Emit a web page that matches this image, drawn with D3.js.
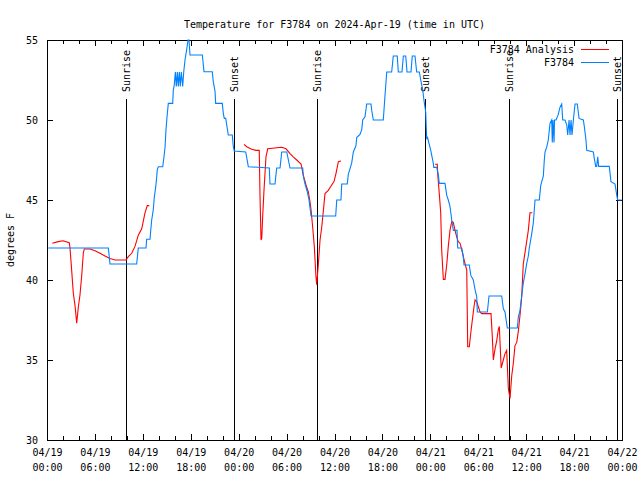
<!DOCTYPE html>
<html><head><meta charset="utf-8">
<script src="https://cdn.jsdelivr.net/npm/d3@7"></script>
<style>
html,body{margin:0;padding:0;background:#fff;}
svg{display:block;}
text{font-family:"DejaVu Sans Mono",monospace;font-size:10px;fill:#000;}
</style></head>
<body>
<svg id="chart" width="640" height="480"></svg>
<script>
// ---- data ----
const titleText = "Temperature for F3784 on 2024-Apr-19 (time in UTC)";
const yLabel = "degrees F";
const seriesNames = ["F3784 Analysis", "F3784"];
const seriesColors = ["#ff0000", "#0080ff"];
const yTicks = [30, 35, 40, 45, 50, 55];
// hours after 2024-04-19 00:00 UTC
const obsHours = [0.16,7.68,7.89,11.23,11.43,12.40,12.48,12.90,12.99,13.11,13.31,13.44,13.61,13.74,13.81,13.94,14.49,14.65,14.78,14.90,15.03,15.19,15.74,15.82,15.94,16.07,16.19,16.32,16.44,16.57,16.69,16.82,16.99,17.12,17.28,17.49,17.66,17.78,17.91,19.45,19.66,20.70,20.82,21.04,21.12,21.95,22.08,22.20,22.38,22.70,23.20,23.33,23.45,24.88,25.21,27.84,27.92,28.55,28.76,29.18,29.39,30.02,30.43,32.02,32.09,32.31,32.60,32.81,33.06,36.15,36.28,36.81,36.90,37.60,37.73,38.15,38.36,38.69,38.78,39.19,39.41,39.53,39.82,40.03,40.57,40.66,40.86,42.11,42.32,42.54,43.16,43.36,43.86,43.99,44.45,44.62,44.92,45.08,45.58,45.74,46.08,46.29,46.62,46.80,47.04,47.21,47.42,47.55,47.62,48.05,48.37,48.43,48.80,49.00,49.12,49.84,50.05,50.25,50.46,50.68,50.88,51.34,51.43,51.93,52.13,52.22,52.88,53.06,53.38,53.60,53.81,53.88,55.14,55.35,56.94,57.14,57.35,57.64,58.89,59.02,59.23,59.44,59.64,59.86,60.07,60.27,60.39,60.70,60.90,61.11,61.65,61.82,62.15,62.27,62.36,62.57,62.77,62.99,63.20,63.27,63.36,63.49,63.55,63.74,63.99,64.24,64.45,64.58,64.86,65.08,65.20,65.37,65.49,65.62,65.74,65.91,66.12,66.40,66.62,67.16,67.28,67.49,67.58,68.41,68.53,68.71,68.83,68.96,69.08,70.41,70.62,71.13,71.34,71.46,71.96];
const obsTemps = [42,42,41,41,42,42,42.55,42.55,43.1,43.75,44.4,45.2,45.8,46.46,46.9,47.08,47.08,47.7,48.3,49.4,50.2,51.04,51.04,51.9,52.2,53,52.1,53,52.1,53,52.1,53,52.1,53,53.75,54.4,55,55,54.06,54.06,53.02,53.02,52.4,51.8,51.04,51.04,50.4,50.1,50.1,49.06,49.06,48.33,48.06,48,47.08,47,46,46,47,47,48,48,47,47,46.5,46,45.5,45,44,44,45,45,46,46,46.6,47.3,48,48.4,48.9,49.1,49.4,50,50.2,51,51,50.6,50,50,51.5,53,53,54,54,53,53,54,54,53,53,54,54,53,53,52.5,51.9,51.2,50.5,48.8,48.96,48.1,47.3,47.04,47.04,46.6,46.04,46.04,45.3,45,44.6,43.75,43.1,43.1,42,42,41.46,40.94,40.94,40.3,40,39.4,38.96,38,38,39,39,38.2,38,37,37,37.7,38.1,39,39.8,40.4,41.04,41.5,42,42.9,43.6,45,45,45.9,46.5,47.5,48,48.3,48.75,49.8,50,48.6,50,48.6,50,50,50.3,50.8,51,50,50,49.7,49.06,50,49.06,50,49.06,50,51,51,50.1,50,49.6,48.75,48.1,48,47.6,47.1,47.1,47.7,47.1,47.1,46.15,46,45.3,45,45];
// null temperature = gap between analysis runs
const anaHours = [0.66,1.42,2.0,2.79,2.88,3.09,3.29,3.51,3.72,3.92,4.13,4.35,4.55,4.67,5.38,6.01,6.64,7.26,7.89,8.52,9.89,10.18,10.61,11.02,11.43,11.86,12.27,12.56,12.81,18,24.67,25.01,25.63,26.17,26.58,26.67,26.80,26.89,27.01,27.17,27.42,27.64,29.39,29.93,30.43,30.84,31.27,31.81,32.09,32.43,32.72,32.93,33.06,33.27,33.47,33.68,33.77,33.97,34.19,34.40,34.60,34.81,35.22,35.65,35.94,36.19,36.48,36.81,42,48.59,48.87,48.92,49.12,49.30,49.42,49.63,49.84,50.05,50.25,50.46,50.68,50.88,51.09,51.30,51.50,51.72,51.93,52.13,52.34,52.56,52.68,52.88,53.06,53.26,53.47,53.60,53.81,54.01,54.22,54.43,55.60,55.76,55.89,56.10,56.31,56.51,56.64,56.87,57.14,57.35,57.56,57.77,57.98,58.19,58.39,58.60,58.82,59.02,59.23,59.44,59.64,59.94,60.27,60.48,60.77];
const anaTemps = [42.3,42.4,42.45,42.33,42.0,40.6,39.2,38.4,37.3,38.3,39.06,40.3,41.7,41.94,41.94,41.83,41.67,41.5,41.35,41.25,41.25,41.46,41.67,42.1,42.8,43.2,44.2,44.65,44.65,null,48.48,48.33,48.17,48.1,48.1,45.3,42.5,42.6,44,45.6,47.7,48.2,48.3,48.2,47.9,47.7,47.5,47.25,46.56,45.94,45.5,44.9,44.4,43.3,42.1,40.2,39.7,40.94,42.5,43.3,44.3,45.4,45.6,45.94,46.15,46.67,47.4,47.44,null,47.23,47.23,46.67,45.4,44.2,41.9,40.04,40.04,40.94,42.1,43.1,43.65,43.6,43.1,42.7,42.4,42.3,41.9,41.46,41.04,40.6,35.83,35.83,36.67,37.5,38.33,38.75,38.65,38.33,38.0,37.9,37.9,36.46,35.0,35.7,36.2,36.9,37.1,34.5,35.0,35.4,35.6,33.2,32.6,34.0,34.8,35.9,36.1,36.8,37.8,38.96,41.0,42.0,43.1,44.2,44.2];
const sunHours = [9.93, 23.45, 33.85, 47.37, 57.89, 71.41];
const sunLabels = ["Sunrise", "Sunset", "Sunrise", "Sunset", "Sunrise", "Sunset"];

// ---- chart ----
const t0 = Date.UTC(2024, 3, 19);
const toDate = h => new Date(t0 + h * 3600e3);
const L = 47, R = 622, T = 40, B = 440;
const svg = d3.select("#chart");
const x = d3.scaleUtc().domain([toDate(0), toDate(72)]).range([L, R]);
const y = d3.scaleLinear().domain([30, 55]).range([B, T]);

svg.append("defs").append("clipPath").attr("id", "clip")
  .append("rect").attr("x", L).attr("y", T - 1).attr("width", R - L).attr("height", B - T + 2);

// title
svg.append("text").attr("x", (L + R) / 2).attr("y", 25).attr("text-anchor", "middle")
  .attr("dominant-baseline", "middle").text(titleText);
// y label
svg.append("text").attr("transform", `translate(11,${(T + B) / 2}) rotate(-90)`)
  .attr("text-anchor", "middle").attr("dominant-baseline", "middle").text(yLabel);

const minorTicks = d3.utcHour.every(2).range(toDate(0), toDate(72.01));
const majorTicks = d3.utcHour.every(6).range(toDate(0), toDate(72.01));

function styleAxis(g) {
  g.select(".domain").remove();
  g.selectAll("line").attr("stroke", "#000").attr("shape-rendering", "crispEdges");
}
// minor x ticks bottom/top
svg.append("g").attr("transform", `translate(0,${B})`)
  .call(d3.axisBottom(x).tickValues(minorTicks).tickSize(-4).tickFormat("")).call(styleAxis);
svg.append("g").attr("transform", `translate(0,${T})`)
  .call(d3.axisTop(x).tickValues(minorTicks).tickSize(-4).tickFormat("")).call(styleAxis);
// major x ticks with labels
const fmtDay = d3.utcFormat("%m/%d"), fmtTime = d3.utcFormat("%H:%M");
const xb = svg.append("g").attr("transform", `translate(0,${B})`)
  .call(d3.axisBottom(x).tickValues(majorTicks).tickSize(-6)).call(styleAxis);
xb.selectAll("text").each(function (d) {
  const t = d3.select(this).text(null).attr("y", 0).attr("dy", null)
    .attr("font-size", null).attr("font-family", null).attr("fill", "#000");
  t.append("tspan").attr("x", 0).attr("y", 16).text(fmtDay(d));
  t.append("tspan").attr("x", 0).attr("y", 31).text(fmtTime(d));
});
svg.append("g").attr("transform", `translate(0,${T})`)
  .call(d3.axisTop(x).tickValues(majorTicks).tickSize(-6).tickFormat("")).call(styleAxis);
// y ticks
const yl = svg.append("g").attr("transform", `translate(${L},0)`)
  .call(d3.axisLeft(y).tickValues(yTicks).tickSize(-6).tickPadding(9)).call(styleAxis);
yl.selectAll("text").attr("font-size", null).attr("font-family", null).attr("fill", "#000")
  .attr("dy", null).attr("dominant-baseline", "middle");
svg.append("g").attr("transform", `translate(${R},0)`)
  .call(d3.axisRight(y).tickValues(yTicks).tickSize(-6).tickFormat("")).call(styleAxis);
// border
svg.append("rect").attr("x", L).attr("y", T).attr("width", R - L).attr("height", B - T)
  .attr("fill", "none").attr("stroke", "#000").attr("shape-rendering", "crispEdges");

// sunrise / sunset markers
const sun = svg.append("g");
sunHours.forEach((h, i) => {
  const sx = x(toDate(h));
  sun.append("line").attr("x1", sx).attr("x2", sx).attr("y1", 99).attr("y2", B)
    .attr("stroke", "#000").attr("shape-rendering", "crispEdges");
  sun.append("text").attr("transform", `translate(${sx + 1},92) rotate(-90)`)
    .attr("dominant-baseline", "middle").text(sunLabels[i]);
});

// series
const anaData = anaHours.map((h, i) => ({ d: toDate(h), v: anaTemps[i] }));
const obsData = obsHours.map((h, i) => ({ d: toDate(h), v: obsTemps[i] }));
const line = d3.line().defined(p => p.v != null).x(p => x(p.d)).y(p => y(p.v));
const plot = svg.append("g").attr("clip-path", "url(#clip)");
plot.append("path").datum(anaData).attr("d", line).attr("fill", "none")
  .attr("stroke", seriesColors[0]).attr("stroke-width", 1.1);
plot.append("path").datum(obsData).attr("d", line).attr("fill", "none")
  .attr("stroke", seriesColors[1]).attr("stroke-width", 1.1);

// legend
const leg = svg.append("g");
seriesNames.forEach((n, i) => {
  const ly = 50 + i * 12.5;
  leg.append("text").attr("x", 574).attr("y", ly).attr("text-anchor", "end")
    .attr("dominant-baseline", "middle").text(n);
  leg.append("line").attr("x1", 581).attr("x2", 609).attr("y1", Math.round(ly) - 0.5).attr("y2", Math.round(ly) - 0.5)
    .attr("stroke", seriesColors[i]).attr("stroke-width", 1);
});
</script>
</body></html>
